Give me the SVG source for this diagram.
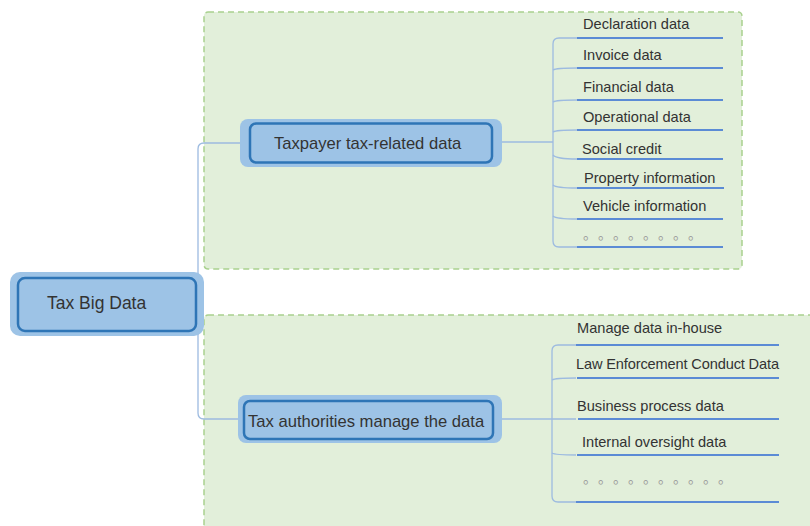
<svg xmlns="http://www.w3.org/2000/svg" width="810" height="526" viewBox="0 0 810 526">
<defs>
<style>
.area{fill:#e2efda;stroke:#a9d18e;stroke-width:1.5;stroke-dasharray:6 4}
.outer{fill:#9dc3e6;stroke:none}
.inner{fill:#9dc3e6;stroke:#2e75b6;stroke-width:2.5}
.conn{fill:none;stroke:#9dbbe0;stroke-width:1.3}
.ul{stroke:#5b8bd5;stroke-width:2}
.t{font-family:"Liberation Sans",Arial,sans-serif;fill:#333}
.leaf{font-size:14.6px}
.dots{font-family:"Noto Sans CJK SC","Noto Sans CJK JP",sans-serif;font-size:14px;fill:#999}
</style>
</defs>
<rect width="810" height="526" fill="#fff"/>
<rect class="area" x="204" y="12" width="538" height="257" rx="4"/>
<rect class="area" x="204" y="315" width="620" height="230" rx="4"/>

<g id="connectors">
<path class="conn" d="M240,143 H204 Q198,143 198,149 V413 Q198,419 204,419 H238"/>
<path class="conn" d="M502,142 H553"/>
<path class="conn" d="M577,38 H559 Q553,38 553,44 V241 Q553,247 559,247 H577"/>
<path class="conn" d="M553,70 Q556,68 577,68 M553,102 Q556,100 577,100 M553,132 Q556,130 577,130 M553,155 Q556,159 577,159 M553,185 Q556,188 577,188 M553,216 Q556,219 577,219"/>
<path class="conn" d="M502,419 H552"/>
<path class="conn" d="M576,345 H558 Q552,345 552,351 V496 Q552,502 558,502 H576"/>
<path class="conn" d="M552,380 Q555,378 576,378 M552,419 H576 M552,453 Q555,455 576,455"/>
</g>

<g id="root">
<rect class="outer" x="10" y="272" width="194" height="64" rx="10"/>
<rect class="inner" x="18" y="278" width="178" height="53" rx="7"/>
<text class="t" x="47" y="309" font-size="17.5">Tax Big Data</text>
</g>

<g id="taxpayer">
<rect class="outer" x="240" y="119" width="262" height="48" rx="8"/>
<rect class="inner" x="250" y="123.5" width="242" height="39" rx="6"/>
<text class="t" x="274" y="149" font-size="16.6">Taxpayer tax-related data</text>
</g>

<g id="authorities">
<rect class="outer" x="238" y="395" width="264" height="48" rx="8"/>
<rect class="inner" x="244" y="401" width="249" height="38" rx="6"/>
<text class="t" x="248" y="427" font-size="16.6">Tax authorities manage the data</text>
</g>

<g id="leaf-declaration"><text class="t leaf" x="583" y="29">Declaration data</text><line class="ul" x1="577" y1="38" x2="723" y2="38"/></g>
<g id="leaf-invoice"><text class="t leaf" x="583" y="60">Invoice data</text><line class="ul" x1="577" y1="68" x2="723" y2="68"/></g>
<g id="leaf-financial"><text class="t leaf" x="583" y="92">Financial data</text><line class="ul" x1="577" y1="100" x2="723" y2="100"/></g>
<g id="leaf-operational"><text class="t leaf" x="583" y="122">Operational data</text><line class="ul" x1="577" y1="130" x2="723" y2="130"/></g>
<g id="leaf-social"><text class="t leaf" x="582" y="154">Social credit</text><line class="ul" x1="577" y1="159" x2="723" y2="159"/></g>
<g id="leaf-property"><text class="t leaf" x="584" y="183">Property information</text><line class="ul" x1="577" y1="188" x2="724" y2="188"/></g>
<g id="leaf-vehicle"><text class="t leaf" x="583" y="211">Vehicle information</text><line class="ul" x1="577" y1="219" x2="723" y2="219"/></g>
<g id="leaf-more1"><text class="dots" x="583 598 613 628 643 658 673 688" y="239">。。。。。。。。</text><line class="ul" x1="577" y1="247" x2="723" y2="247"/></g>

<g id="leaf-inhouse"><text class="t leaf" x="577" y="333">Manage data in-house</text><line class="ul" x1="576" y1="345" x2="779" y2="345"/></g>
<g id="leaf-law"><text class="t leaf" x="576" y="369" textLength="203">Law Enforcement Conduct Data</text><line class="ul" x1="577" y1="378" x2="779" y2="378"/></g>
<g id="leaf-business"><text class="t leaf" x="577" y="411">Business process data</text><line class="ul" x1="578" y1="419" x2="779" y2="419"/></g>
<g id="leaf-oversight"><text class="t leaf" x="582" y="447">Internal oversight data</text><line class="ul" x1="577" y1="455" x2="779" y2="455"/></g>
<g id="leaf-more2"><text class="dots" x="583 598 613 628 643 658 673 688 703 718" y="483">。。。。。。。。。。</text><line class="ul" x1="576" y1="502" x2="779" y2="502"/></g>
</svg>
